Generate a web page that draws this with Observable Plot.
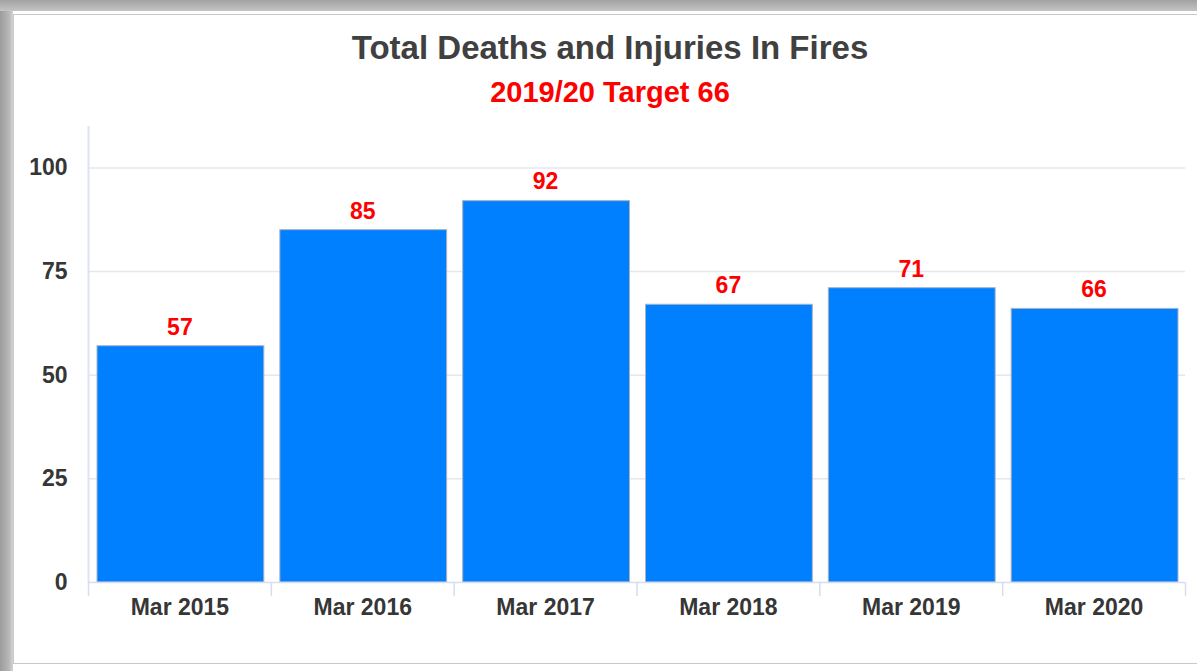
<!DOCTYPE html>
<html>
<head>
<meta charset="utf-8">
<script src="https://cdn.jsdelivr.net/npm/d3@7"></script>
<script src="https://cdn.jsdelivr.net/npm/@observablehq/plot@0.6"></script>
<style>
  html, body { margin: 0; padding: 0; background: #fff; }
  #wrap { position: relative; width: 1197px; height: 671px; overflow: hidden; font-family: "Liberation Sans", Arial, sans-serif; }
  #leftbar { position: absolute; left: 0; top: 0; width: 13px; height: 671px; background: linear-gradient(to right, #9c9c9c, #b8b8b8 70%, #d4d4d4); }
  #topbar { position: absolute; left: 0; top: 0; width: 1197px; height: 11px; background: linear-gradient(to bottom, #a2a2a2, #c4c4c4); }
  #panel { position: absolute; left: 13px; top: 14px; width: 1200px; height: 650px; border: 1px solid #c9c9c9; background: #fff; box-sizing: border-box; }
  .title { position: absolute; left: 0; width: 1220px; text-align: center; font-weight: bold; white-space: nowrap; }
  #t1 { top: 31px; font-size: 33px; line-height: 33px; color: #404040; }
  #t2 { top: 78px; font-size: 29px; line-height: 29px; color: #ff0000; }
  #chart { position: absolute; left: 0; top: 110px; }
</style>
</head>
<body>
<div id="wrap">
  <div id="leftbar"></div>
  <div id="topbar"></div>
  <div id="panel"></div>
  <div class="title" id="t1">Total Deaths and Injuries In Fires</div>
  <div class="title" id="t2">2019/20 Target 66</div>
  <div id="chart"></div>
</div>
<script>
const categories = ["Mar 2015", "Mar 2016", "Mar 2017", "Mar 2018", "Mar 2019", "Mar 2020"];
const values = [57, 85, 92, 67, 71, 66];
const yTicks = [0, 25, 50, 75, 100];
const yMax = 110;

const data = categories.map((c, i) => ({cat: c, i, value: values[i]}));
const edges = d3.range(categories.length + 1);
const centers = data.map(d => d.i + 0.5);

const chart = Plot.plot({
  width: 1197,
  height: 522,
  marginLeft: 88,
  marginRight: 12,
  marginTop: 16,
  marginBottom: 50,
  style: {fontFamily: "Liberation Sans, Arial, sans-serif", fontWeight: "bold", fontSize: "22px", background: "transparent", overflow: "visible"},
  x: {type: "linear", domain: [0, categories.length]},
  y: {domain: [0, yMax]},
  marks: [
    Plot.ruleY(yTicks.slice(1), {stroke: "#e6e6ec", strokeWidth: 1.5}),
    Plot.ruleX([0], {y1: 0, y2: yMax, stroke: "#dde3f3", strokeWidth: 2}),
    Plot.rectY(data, {x1: "i", x2: d => d.i + 1, y: "value", fill: "#0080FF", stroke: "#aab3c4", strokeWidth: 1, insetLeft: 9, insetRight: 7}),
    Plot.ruleY([0], {stroke: "#d6ddef", strokeWidth: 1.5}),
    Plot.axisX(edges, {tickSize: 14, tickFormat: () => "", label: null, stroke: "#d6ddef", strokeWidth: 1.5}),
    Plot.axisX(centers, {tickSize: 0, tickPadding: 16, label: null, tickFormat: v => categories[Math.floor(v)], fill: "#363636", fontWeight: "bold", fontSize: 23}),
    Plot.axisY(yTicks, {tickSize: 0, tickPadding: 21, label: null, fill: "#363636", fontWeight: "bold", fontSize: 23}),
    Plot.text(data, {x: d => d.i + 0.5, y: "value", text: d => String(d.value), dy: -19, fill: "#ff0000", fontWeight: "bold", fontSize: 23})
  ]
});
document.getElementById("chart").appendChild(chart);
</script>
</body>
</html>
